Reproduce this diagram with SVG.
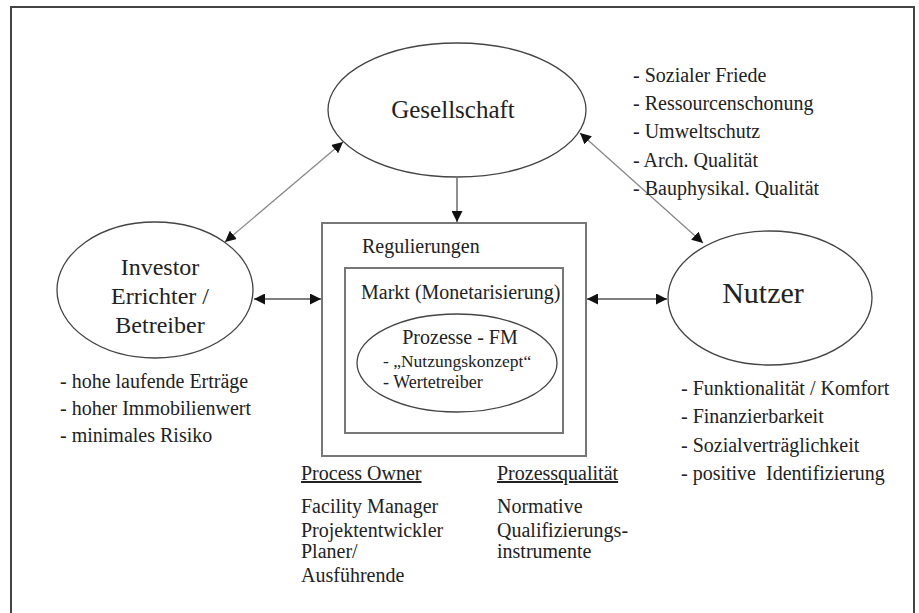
<svg xmlns="http://www.w3.org/2000/svg" width="919" height="613" viewBox="0 0 919 613">
<defs>
<style>
text{font-family:"Liberation Serif","Times New Roman",serif;fill:#222}
.node{fill:none;stroke:#444;stroke-width:1.3}
.box{fill:none;stroke:#777;stroke-width:2}
.conn{stroke:#555;stroke-width:1.3;fill:none}
.diag{stroke:#888;stroke-width:1.3;fill:none}
.b{font-size:20px}
</style>
<marker id="ah" viewBox="0 0 10 10" refX="10" refY="5" markerWidth="11" markerHeight="11" markerUnits="userSpaceOnUse" orient="auto-start-reverse">
<path d="M0,0 L10,5 L0,10 z" fill="#111"/>
</marker>
</defs>
<rect x="11" y="7" width="903" height="630" fill="#fff" stroke="#444" stroke-width="2"/>

<g id="connectors">
<line class="conn" x1="457" y1="178" x2="457" y2="222" marker-end="url(#ah)"/>
<line class="conn" x1="254" y1="299" x2="321" y2="299" marker-start="url(#ah)" marker-end="url(#ah)"/>
<line class="conn" x1="587" y1="299" x2="667" y2="299" marker-start="url(#ah)" marker-end="url(#ah)"/>
<line class="diag" x1="343" y1="142" x2="225" y2="242" marker-start="url(#ah)" marker-end="url(#ah)"/>
<line class="diag" x1="580" y1="133" x2="703" y2="243" marker-start="url(#ah)" marker-end="url(#ah)"/>
</g>

<g id="gesellschaft">
<ellipse class="node" cx="457" cy="110" rx="129" ry="67"/>
<text x="453" y="118" font-size="25" text-anchor="middle">Gesellschaft</text>
</g>

<g id="investor">
<ellipse class="node" cx="155" cy="290" rx="98" ry="68"/>
<text x="160" y="275" font-size="24" text-anchor="middle">Investor</text>
<text x="160" y="304" font-size="24" text-anchor="middle">Errichter /</text>
<text x="160" y="333" font-size="24" text-anchor="middle">Betreiber</text>
</g>

<g id="nutzer">
<ellipse class="node" cx="770" cy="298" rx="102" ry="67"/>
<text x="763" y="303" font-size="30" text-anchor="middle">Nutzer</text>
</g>

<g id="regulierungen">
<rect class="box" x="322" y="223" width="264" height="233"/>
<text x="362" y="253" font-size="20">Regulierungen</text>
</g>

<g id="markt">
<rect class="box" x="345" y="268" width="218" height="165"/>
<text x="361" y="299" font-size="20">Markt (Monetarisierung)</text>
</g>

<g id="prozesse">
<ellipse class="node" cx="457" cy="363" rx="100" ry="49"/>
<text x="460" y="344" font-size="20" text-anchor="middle">Prozesse - FM</text>
<text x="383" y="367" font-size="17.5">- „Nutzungskonzept“</text>
<text x="383" y="388" font-size="18">- Wertetreiber</text>
</g>

<g id="gesellschaft-list" class="b">
<text x="633" y="82">- Sozialer Friede</text>
<text x="633" y="110">- Ressourcenschonung</text>
<text x="633" y="138">- Umweltschutz</text>
<text x="633" y="167">- Arch. Qualität</text>
<text x="633" y="195">- Bauphysikal. Qualität</text>
</g>

<g id="investor-list" class="b">
<text x="60" y="388">- hohe laufende Erträge</text>
<text x="60" y="415">- hoher Immobilienwert</text>
<text x="60" y="442">- minimales Risiko</text>
</g>

<g id="nutzer-list" class="b">
<text x="681" y="395">- Funktionalität / Komfort</text>
<text x="681" y="423">- Finanzierbarkeit</text>
<text x="681" y="452">- Sozialverträglichkeit</text>
<text x="681" y="480">- positive&#160; Identifizierung</text>
</g>

<g id="process-owner" class="b">
<text x="301" y="480" text-decoration="underline">Process Owner</text>
<text x="301" y="513">Facility Manager</text>
<text x="301" y="537">Projektentwickler</text>
<text x="301" y="558">Planer/</text>
<text x="301" y="582">Ausführende</text>
</g>

<g id="prozessqualitaet" class="b">
<text x="497" y="480" text-decoration="underline">Prozessqualität</text>
<text x="497" y="513">Normative</text>
<text x="497" y="537">Qualifizierungs-</text>
<text x="497" y="558">instrumente</text>
</g>
</svg>
